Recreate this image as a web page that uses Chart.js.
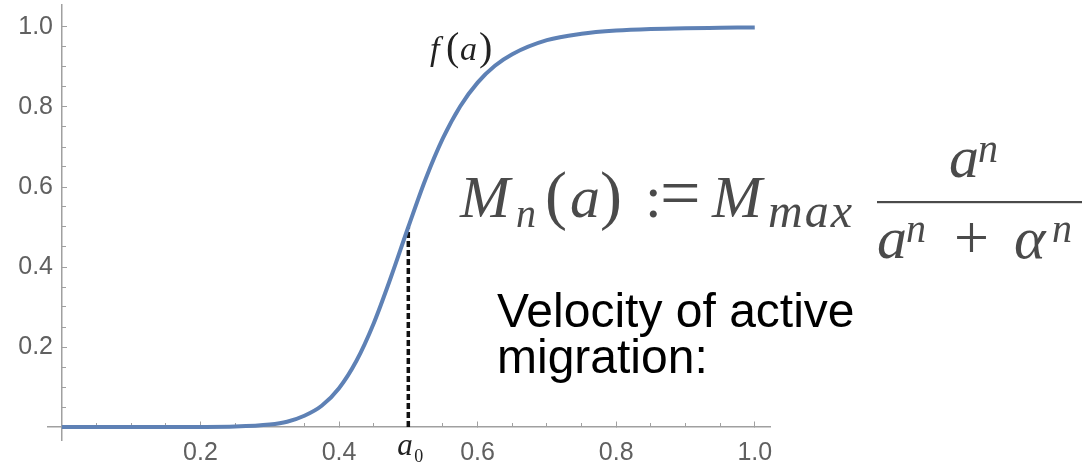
<!DOCTYPE html>
<html>
<head>
<meta charset="utf-8">
<script src="https://cdn.jsdelivr.net/npm/chart.js@4.4.1/dist/chart.umd.min.js"></script>
<style>
  html, body { margin: 0; padding: 0; background: #fff; }
  #hill { display: block; }
</style>
</head>
<body>
<canvas id="hill" width="1085" height="466"></canvas>
<script>
// Hill activation curve f(a), sampled along a
const aValues = [0, 0.1, 0.15, 0.2, 0.25, 0.3, 0.325, 0.35, 0.375, 0.4, 0.425, 0.45, 0.475, 0.5,
  0.525, 0.55, 0.575, 0.6, 0.625, 0.65, 0.7, 0.75, 0.8, 0.85, 0.9, 0.95, 1.0];
const fValues = [0, 0, 0, 0.0001, 0.001, 0.006, 0.013, 0.028, 0.053, 0.097, 0.165, 0.259, 0.375, 0.5,
  0.62, 0.722, 0.802, 0.861, 0.903, 0.932, 0.967, 0.983, 0.991, 0.995, 0.997, 0.998, 0.999];

// half-activation point and the level it reaches there
const a0 = 0.5;
const halfLevel = 0.5;

const xTickLabels = [0.2, 0.4, 0.6, 0.8, 1.0];
const yTickLabels = [0.2, 0.4, 0.6, 0.8, 1.0];

const X_MIN = -0.02, X_MAX = 1.022;
const Y_MIN = -0.0325, Y_MAX = 1.055;

const AXIS_GRAY = '#a0a0a0';
const LABEL_GRAY = '#606060';
const SANS = '"Liberation Sans", Arial, sans-serif';
const tickFont = { family: SANS, size: 25 };

const minorSteps = [];
for (let i = 1; i <= 20; i++) minorSteps.push(+(i * 0.05).toFixed(2));

// y labels are mirrored (so they are not clipped to the scale box) and
// right-aligned 5px past the label scale's edge
const measure = document.createElement('canvas').getContext('2d');
measure.font = '25px ' + SANS;
const yLabelWidth = Math.max(...yTickLabels.map(v => measure.measureText(v.toFixed(1)).width));

const setTicks = values => scale => { scale.ticks = values.map(v => ({ value: v })); };
const noWidth = scale => { scale.width = 0; };
const noHeight = scale => { scale.height = 0; };

// formula, captions and the a0 marker label
const textLayer = {
  id: 'textLayer',
  afterDraw(chart) {
    const ctx = chart.ctx;
    const xs = chart.scales.x;
    const serif = '"Liberation Serif", "Times New Roman", serif';
    ctx.save();
    ctx.textBaseline = 'alphabetic';
    ctx.textAlign = 'left';

    const put = (txt, x, y, font, color, spacing) => {
      ctx.font = font;
      ctx.fillStyle = color;
      ctx.letterSpacing = spacing || '0px';
      ctx.fillText(txt, x, y);
    };

    // f(a) next to the curve
    put('f', 430, 60, 'italic 34px ' + serif, '#222');
    put('(', 446, 60, '40px ' + serif, '#222');
    put('a', 460, 60, 'italic 34px ' + serif, '#222');
    put(')', 479, 60, '40px ' + serif, '#222');

    // a0 under the axis
    const px = xs.getPixelForValue(a0);
    put('a', px - 11, 455, 'italic 31px ' + serif, '#222');
    put('0', px + 6, 462, '18px ' + serif, '#222');

    // M_n(a) := M_max a^n / (a^n + α^n)
    const ink = '#4a4a4a';
    const main = 'italic 60px ' + serif;
    const sub = 'italic 40px ' + serif;
    const up = '66px ' + serif;
    put('M', 460, 217, main, ink);
    put('n', 516, 227, sub, ink);
    put('(', 545, 217, up, ink);
    put('a', 570, 217, main, ink);
    put(')', 600, 217, up, ink);
    put(':', 645, 217, '60px ' + serif, ink);
    put('=', 660, 217, '72px ' + serif, ink);
    put('M', 712, 217, main, ink);
    put('max', 768, 227, 'italic 48px ' + serif, ink, '2px');

    put('a', 949, 177, main, ink);
    put('n', 978, 162, sub, ink);
    ctx.fillStyle = ink;
    ctx.fillRect(877, 201, 205, 2.2);
    put('a', 877, 258, main, ink);
    put('n', 906, 242, sub, ink);
    put('+', 954, 258, '62px ' + serif, ink);
    put('\u03B1', 1014, 258, main, ink);
    put('n', 1052, 242, sub, ink);

    // caption
    put('Velocity of active', 497, 327, '48px ' + SANS, '#000');
    put('migration:', 497, 373, '48px ' + SANS, '#000');

    ctx.restore();
  }
};

new Chart(document.getElementById('hill'), {
  type: 'line',
  data: {
    datasets: [
      {
        label: 'f(a)',
        data: aValues.map((a, i) => ({ x: a, y: fValues[i] })),
        borderColor: '#5E81B5',
        borderWidth: 4,
        pointRadius: 0,
        cubicInterpolationMode: 'monotone',
        fill: false
      },
      {
        label: 'a0',
        data: [{ x: a0, y: 0 }, { x: a0, y: halfLevel }],
        borderColor: '#111',
        borderWidth: 3.5,
        borderDash: [6, 3],
        pointRadius: 0,
        fill: false
      }
    ]
  },
  options: {
    responsive: false,
    animation: false,
    devicePixelRatio: 1,
    layout: { padding: { left: 0, right: 315, top: 5, bottom: 26 } },
    plugins: { legend: { display: false }, tooltip: { enabled: false } },
    scales: {
      x: {
        type: 'linear', axis: 'x', position: { y: 0 },
        min: X_MIN, max: X_MAX,
        afterBuildTicks: setTicks(xTickLabels),
        afterFit: noHeight,
        border: { display: true, color: AXIS_GRAY, width: 1.5 },
        grid: { drawOnChartArea: false, drawTicks: true, tickLength: -6, tickColor: AXIS_GRAY, tickWidth: 1 },
        ticks: { color: LABEL_GRAY, font: tickFont, padding: 17, maxRotation: 0, callback: v => v.toFixed(1) }
      },
      xMinor: {
        type: 'linear', axis: 'x', position: { y: 0 },
        min: X_MIN, max: X_MAX,
        afterBuildTicks: setTicks(minorSteps),
        afterFit: noHeight,
        border: { display: false },
        grid: { drawOnChartArea: false, drawTicks: true, tickLength: -4, tickColor: AXIS_GRAY, tickWidth: 1 },
        ticks: { display: false }
      },
      y: {
        type: 'linear', axis: 'y', position: { x: 0 },
        min: Y_MIN, max: Y_MAX,
        afterBuildTicks: setTicks(yTickLabels),
        afterFit: noWidth,
        border: { display: true, color: AXIS_GRAY, width: 1.5 },
        grid: { drawOnChartArea: false, drawTicks: true, tickLength: -6, tickColor: AXIS_GRAY, tickWidth: 1 },
        ticks: { display: false }
      },
      yMinor: {
        type: 'linear', axis: 'y', position: { x: 0 },
        min: Y_MIN, max: Y_MAX,
        afterBuildTicks: setTicks(minorSteps),
        afterFit: noWidth,
        border: { display: false },
        grid: { drawOnChartArea: false, drawTicks: true, tickLength: -4, tickColor: AXIS_GRAY, tickWidth: 1 },
        ticks: { display: false }
      },
      yLabels: {
        type: 'linear', axis: 'y', position: 'left',
        min: Y_MIN, max: Y_MAX,
        afterBuildTicks: setTicks(yTickLabels),
        afterFit: scale => { scale.width = 48; },
        border: { display: false },
        grid: { display: false, drawTicks: false },
        ticks: {
          color: LABEL_GRAY, font: tickFont,
          mirror: true, crossAlign: 'far', padding: 5 - yLabelWidth,
          callback: v => v.toFixed(1)
        }
      }
    }
  },
  plugins: [textLayer]
});
</script>
</body>
</html>
